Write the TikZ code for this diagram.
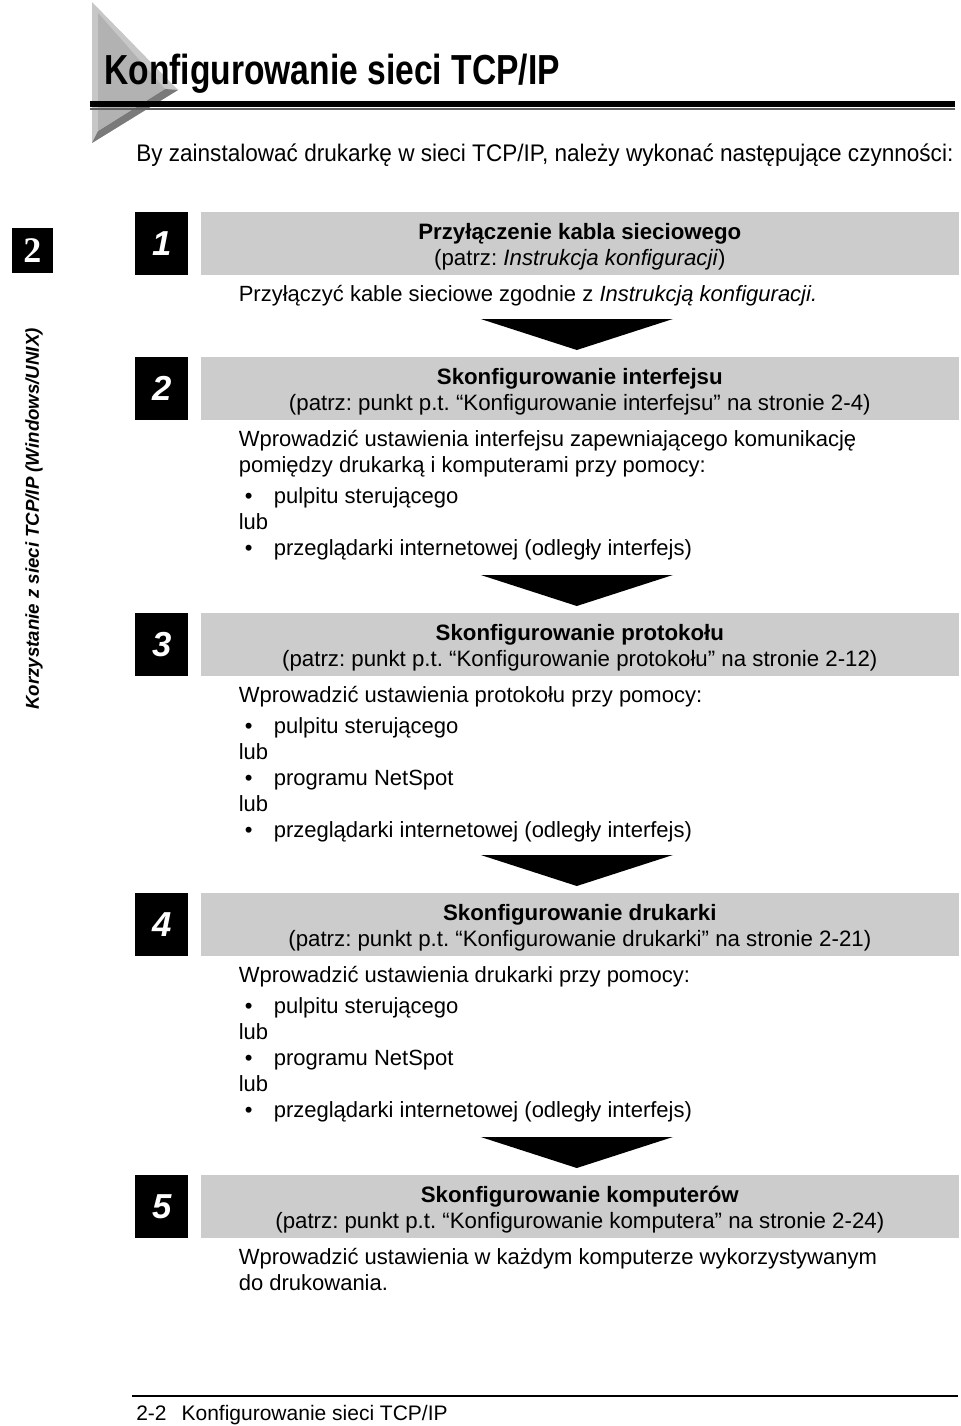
\documentclass[tikz,border=0pt]{standalone}
\usepackage{fontspec}
\setmainfont{Liberation Sans}
\newfontfamily\narrowfont[FakeStretch=0.80]{Liberation Sans}
\newfontfamily\subfont[FakeStretch=0.94]{Liberation Sans}
\newfontfamily\tabfont{Liberation Serif}
\usetikzlibrary{positioning,calc}

\definecolor{barGray}{gray}{0.80}
\definecolor{triLight}{gray}{0.78}
\definecolor{triFace}{gray}{0.70}
\definecolor{triDark}{gray}{0.48}

\newcommand{\bulletitem}[1]{\hspace*{4.5pt}\makebox[21.75pt][l]{\textbullet}#1}
\newcommand{\firstline}{\rule{0pt}{16pt}}
\newcommand{\barstrut}{\rule{0pt}{17pt}}
\newcommand{\barfoot}{\rule[-3.6pt]{0pt}{0pt}}

\begin{document}
\frenchspacing
\begin{tikzpicture}[
    x=0.75pt, y=-0.75pt,
    numbox/.style={fill=black, text=white, inner sep=0pt, minimum width=39.75pt, minimum height=47.25pt,
        font=\fontsize{26}{26}\selectfont\bfseries\itshape},
    bar/.style={fill=barGray, inner sep=0pt, minimum width=568.5pt, minimum height=47.25pt,
        align=center, font=\fontsize{16.7}{19.5}\selectfont},
    body/.style={inner sep=0pt, align=left, font=\fontsize{16.5}{19.5}\selectfont},
    pointer/.style={fill=black}
]
    \useasboundingbox (0,0) rectangle (960,1426);

    % title corner
    \fill[triLight] (92,2) -- (178,90) -- (92,143) -- cycle;
    \fill[triDark] (178,90) -- (92,143) -- (98,131) -- (165,89) -- cycle;
    \fill[triFace] (98,13) -- (165,89) -- (98,131) -- cycle;
    \fill[black] (90,101) rectangle (955,107);
    \fill[gray!75!black] (90,108) rectangle (955,110);
    \node[anchor=base west, inner sep=0pt, font=\narrowfont\bfseries\fontsize{31.5}{31.5}\selectfont] (title) at (104,85) {Konfigurowanie sieci TCP/IP};
    \node[anchor=base west, inner sep=0pt, font=\subfont\fontsize{18}{18}\selectfont] (intro) at (136,162) {By zainstalować drukarkę w sieci TCP/IP, należy wykonać następujące czynności:};

    % side tab
    \node[fill=black, text=white, inner sep=0pt, minimum width=30.75pt, minimum height=33.75pt,
        font=\tabfont\bfseries\fontsize{27}{27}\selectfont] (tab) at (32.5,250.5) {2};
    \node[rotate=90, inner sep=0pt, font=\fontsize{14}{14}\selectfont\bfseries\itshape] (side) at (34,519) {Korzystanie z sieci TCP/IP (Windows/UNIX)};

    % steps
    \node[numbox, anchor=north west] (n1) at (135,212) {1};
    \node[bar, right=9pt of n1] (bar1) {\barstrut\textbf{Przyłączenie kabla sieciowego}\\(patrz: \textit{Instrukcja konfiguracji})\barfoot};
    \node[body, below right=3.5pt and 28.5pt of bar1.south west] (txt1)
        {\firstline Przyłączyć kable sieciowe zgodnie z \textit{Instrukcją konfiguracji.}};

    \node[numbox, anchor=north west] (n2) at (135,357) {2};
    \node[bar, right=9pt of n2] (bar2) {\barstrut\textbf{Skonfigurowanie interfejsu}\\(patrz: punkt p.t. “Konfigurowanie interfejsu” na stronie 2-4)\barfoot};
    \node[body, below right=3.5pt and 28.5pt of bar2.south west] (txt2)
        {\firstline Wprowadzić ustawienia interfejsu zapewniającego komunikację\\
         pomiędzy drukarką i komputerami przy pomocy:\\[3.75pt]
         \bulletitem{pulpitu sterującego}\\
         lub\\
         \bulletitem{przeglądarki internetowej (odległy interfejs)}};

    \node[numbox, anchor=north west] (n3) at (135,613) {3};
    \node[bar, right=9pt of n3] (bar3) {\barstrut\textbf{Skonfigurowanie protokołu}\\(patrz: punkt p.t. “Konfigurowanie protokołu” na stronie 2-12)\barfoot};
    \node[body, below right=3.5pt and 28.5pt of bar3.south west] (txt3)
        {\firstline Wprowadzić ustawienia protokołu przy pomocy:\\[3.75pt]
         \bulletitem{pulpitu sterującego}\\
         lub\\
         \bulletitem{programu NetSpot}\\
         lub\\
         \bulletitem{przeglądarki internetowej (odległy interfejs)}};

    \node[numbox, anchor=north west] (n4) at (135,893) {4};
    \node[bar, right=9pt of n4] (bar4) {\barstrut\textbf{Skonfigurowanie drukarki}\\(patrz: punkt p.t. “Konfigurowanie drukarki” na stronie 2-21)\barfoot};
    \node[body, below right=3.5pt and 28.5pt of bar4.south west] (txt4)
        {\firstline Wprowadzić ustawienia drukarki przy pomocy:\\[3.75pt]
         \bulletitem{pulpitu sterującego}\\
         lub\\
         \bulletitem{programu NetSpot}\\
         lub\\
         \bulletitem{przeglądarki internetowej (odległy interfejs)}};

    \node[numbox, anchor=north west] (n5) at (135,1175) {5};
    \node[bar, right=9pt of n5] (bar5) {\barstrut\textbf{Skonfigurowanie komputerów}\\(patrz: punkt p.t. “Konfigurowanie komputera” na stronie 2-24)\barfoot};
    \node[body, below right=3.5pt and 28.5pt of bar5.south west] (txt5)
        {\firstline Wprowadzić ustawienia w każdym komputerze wykorzystywanym\\
         do drukowania.};

    % pointers between steps
    \foreach \b in {bar2,bar3,bar4,bar5}
        \fill[pointer] ($(\b.north)+(-99,-38)$) -- ($(\b.north)+(93,-38)$) -- ($(\b.north)+(-3,-7)$) -- cycle;

    % footer
    \draw[line width=1.5pt] (132,1396) -- (958,1396);
    \node[anchor=base west, inner sep=0pt, font=\fontsize{15.75}{15.75}\selectfont] (foot) at (136,1420) {2-2\hspace{11.25pt}Konfigurowanie sieci TCP/IP};
\end{tikzpicture}
\end{document}
